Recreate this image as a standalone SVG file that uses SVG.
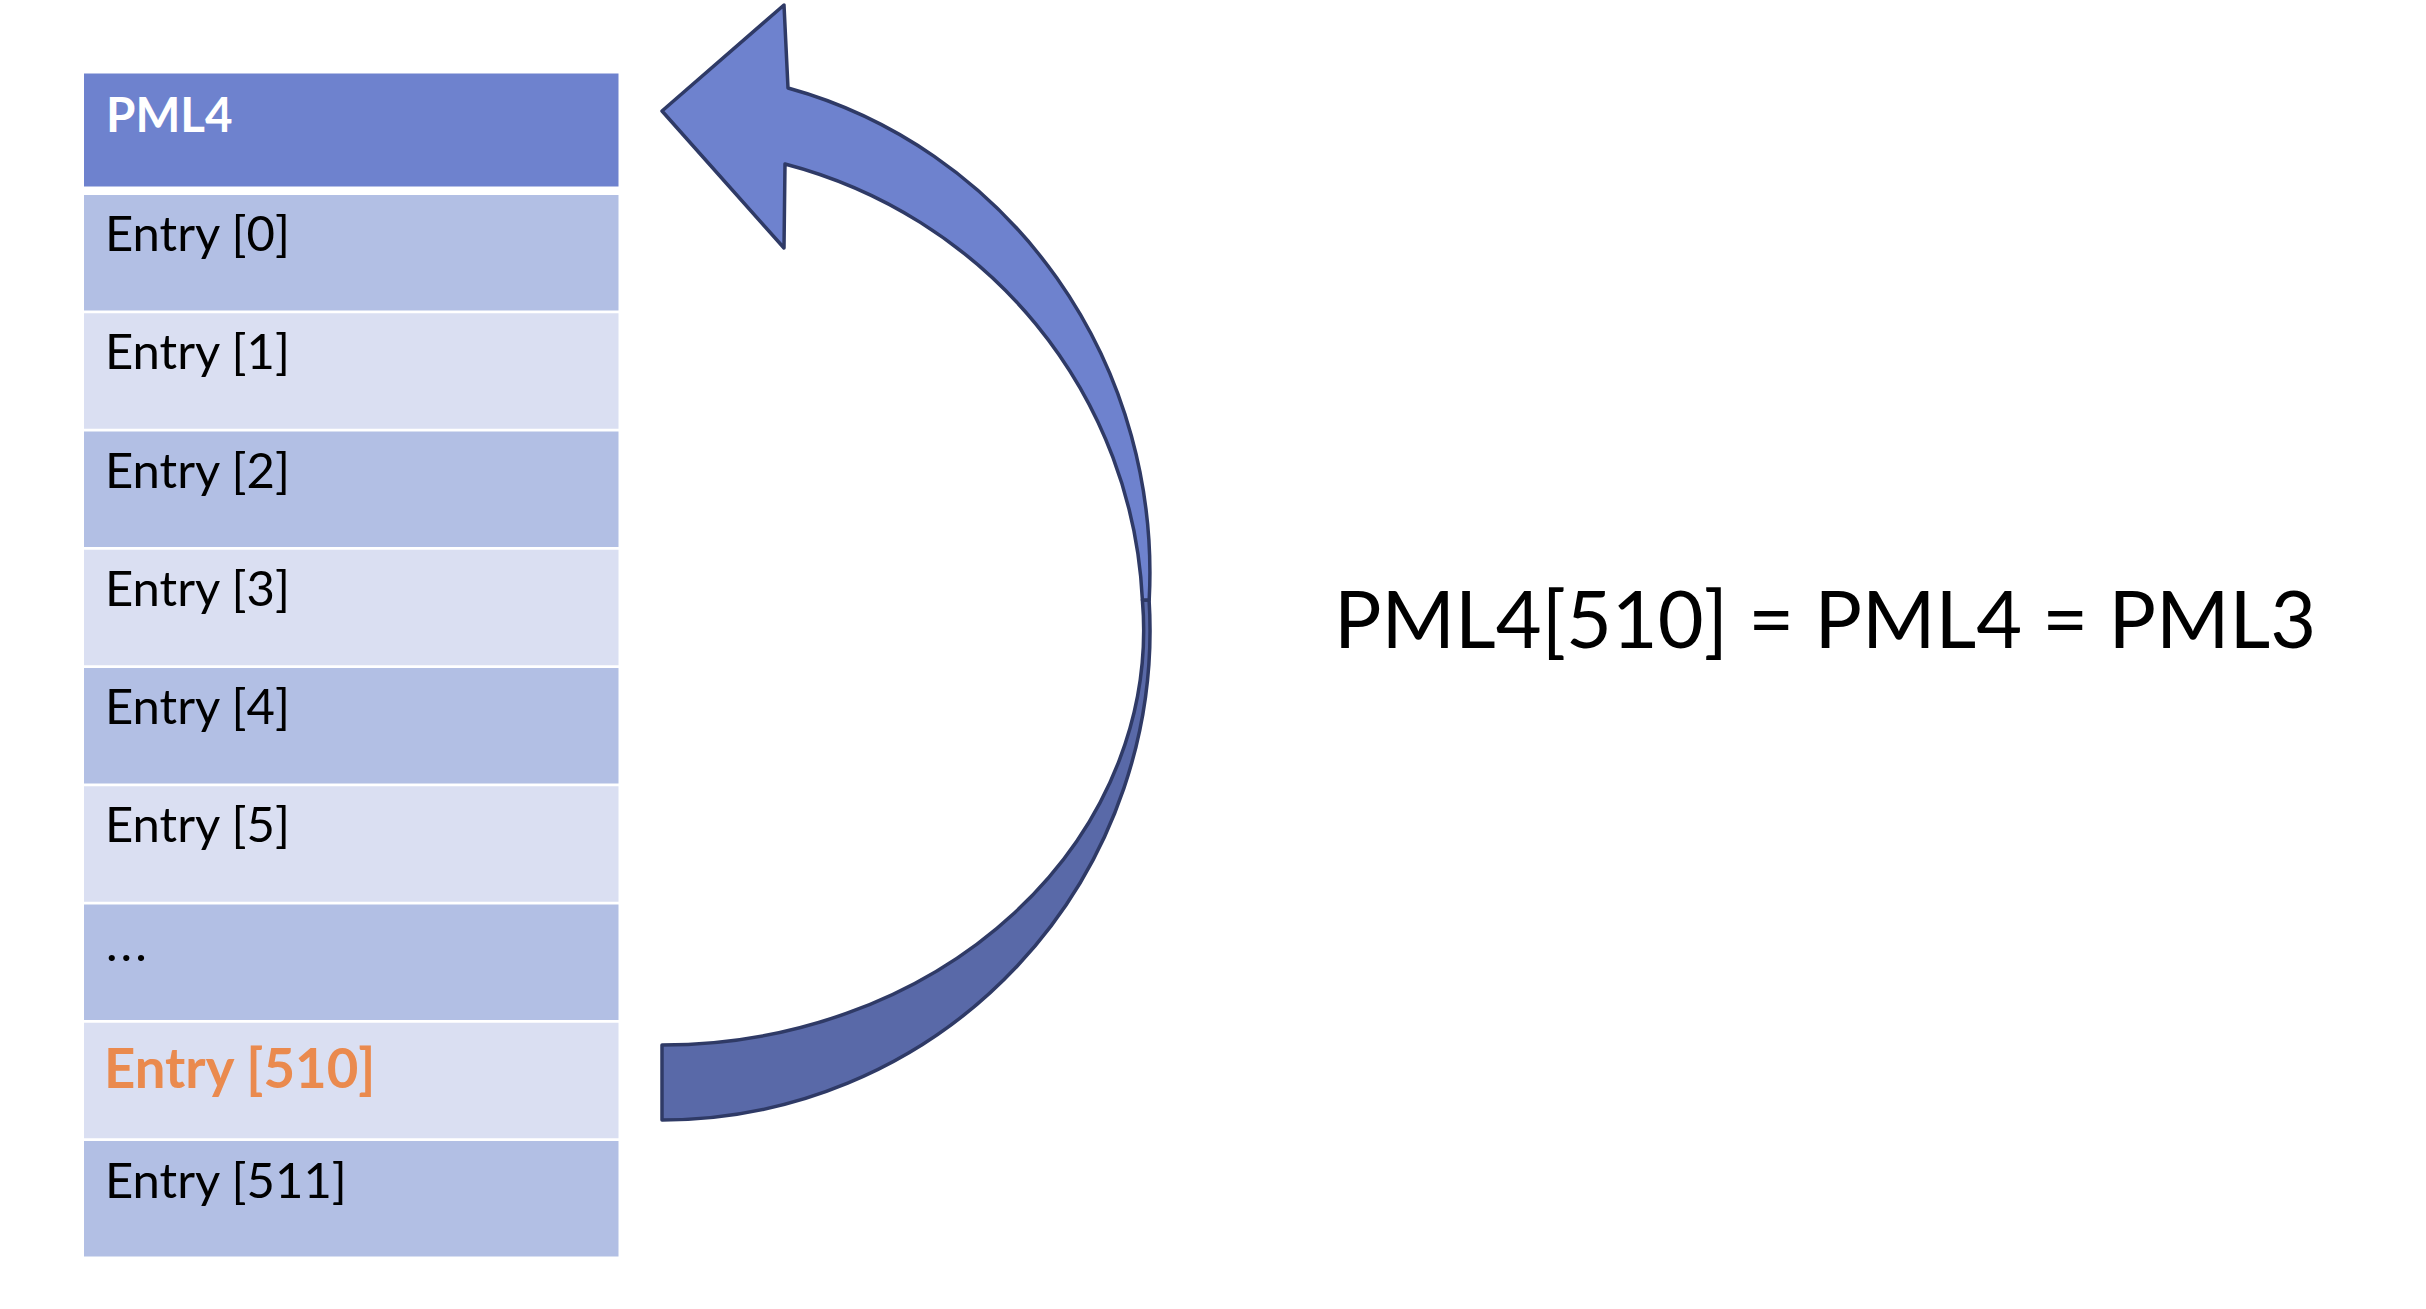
<svg xmlns="http://www.w3.org/2000/svg" width="2426" height="1309" viewBox="0 0 2426 1309">
<style>
  .hdr { fill: #6E82CE; }
  .dark { fill: #B2BFE4; }
  .light { fill: #DADFF2; }
  .t { font-family: Lato, "Open Sans", sans-serif; font-size: 49px; fill: #000000; }
  .th { font-family: Lato, "Open Sans", sans-serif; font-size: 47.5px; font-weight: bold; fill: #FFFFFF; }
  .to { font-family: Lato, "Open Sans", sans-serif; font-size: 54.5px; font-weight: bold; fill: #EA8A4E; }
  .big { font-family: Lato, "Open Sans", sans-serif; font-size: 79.2px; fill: #000000; }
  .arrow { stroke: #2F3A66; stroke-width: 3.5; stroke-linejoin: round; }
</style>
<rect width="2426" height="1309" fill="#FFFFFF"/>
<g id="pml4-header">
  <rect class="hdr" x="84" y="73.5" width="534.5" height="113"/>
  <text class="th" x="106" y="132">PML4</text>
</g>
<g id="entry-0">
  <rect class="dark" x="84" y="195" width="534.5" height="115.5"/>
  <text class="t" x="105" y="251">Entry [0]</text>
</g>
<g id="entry-1">
  <rect class="light" x="84" y="313.25" width="534.5" height="115.5"/>
  <text class="t" x="105" y="369">Entry [1]</text>
</g>
<g id="entry-2">
  <rect class="dark" x="84" y="431.5" width="534.5" height="115.5"/>
  <text class="t" x="105" y="487.5">Entry [2]</text>
</g>
<g id="entry-3">
  <rect class="light" x="84" y="549.75" width="534.5" height="115.5"/>
  <text class="t" x="105" y="605.75">Entry [3]</text>
</g>
<g id="entry-4">
  <rect class="dark" x="84" y="668" width="534.5" height="115.5"/>
  <text class="t" x="105" y="724">Entry [4]</text>
</g>
<g id="entry-5">
  <rect class="light" x="84" y="786.25" width="534.5" height="115.5"/>
  <text class="t" x="105" y="842.25">Entry [5]</text>
</g>
<g id="entry-ellipsis">
  <rect class="dark" x="84" y="904.5" width="534.5" height="115.5"/>
  <text class="t" x="106" y="961" letter-spacing="3">...</text>
</g>
<g id="entry-510">
  <rect class="light" x="84" y="1022.75" width="534.5" height="115.5"/>
  <text class="to" x="104" y="1088">Entry [510]</text>
</g>
<g id="entry-511">
  <rect class="dark" x="84" y="1141" width="534.5" height="115.5"/>
  <text class="t" x="105" y="1197.5">Entry [511]</text>
</g>
<g id="connectors">
  <path class="arrow" fill="#5969A8" d="M 1149.1 600 A 488 490 0 0 1 662 1120 L 662 1045 A 481.5 415 0 0 0 1142.4 600 Z"/>
  <path class="arrow" fill="#6E82CE" d="M 788 88 A 488 502 0 0 1 1149.2 600 L 1142.4 600 A 481 474 0 0 0 785 164 L 784 248 L 662 111 L 784 5 Z"/>
</g>
<g id="equation">
  <text class="big" x="1334" y="648">PML4[510] = PML4 = PML3</text>
</g>
</svg>
